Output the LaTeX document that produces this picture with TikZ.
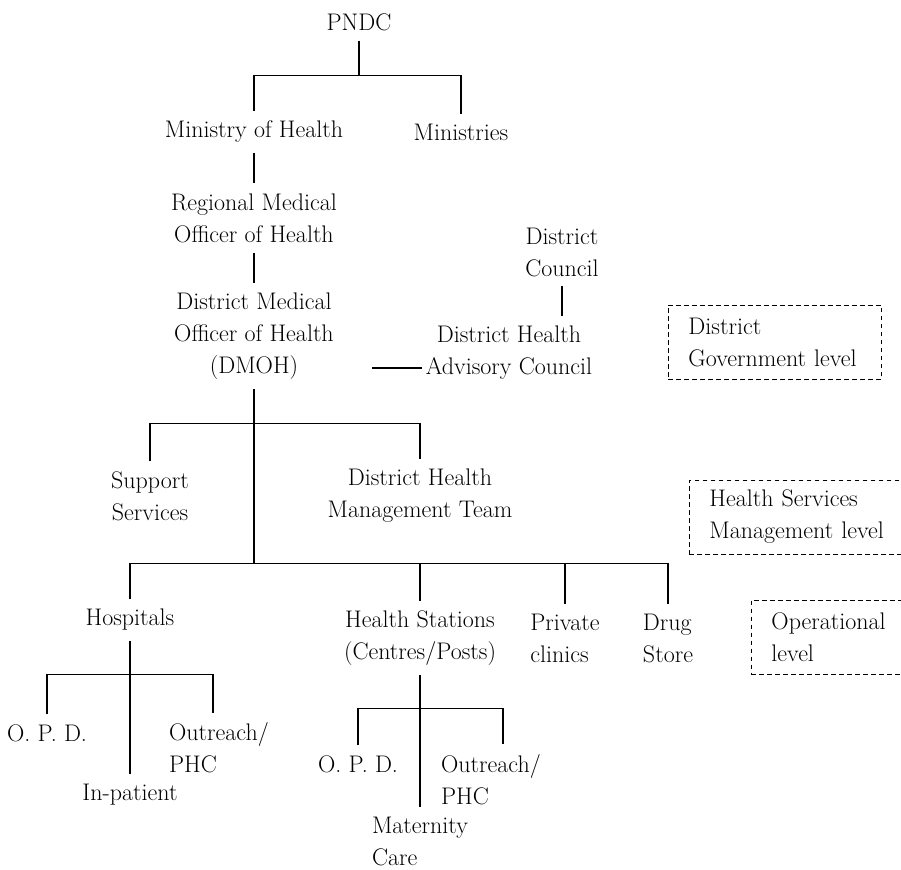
\documentclass[tikz,border=0pt]{standalone}
\usepackage{fontspec}
\usetikzlibrary{positioning}

\begin{document}
\begin{tikzpicture}[x=0.75pt,y=-0.75pt,on grid,thick,
    unit/.style={align=center,font=\fontsize{18}{24}\selectfont,
		inner sep=0pt,outer xsep=3pt,outer ysep=7.5pt},
    unitl/.style={unit,align=left},
% Level box style
    tierbox/.style={draw,dash pattern=on 3.5pt off 2.5pt,line width=0.7pt,
		align=left,anchor=west,font=\fontsize{18}{24}\selectfont,
		inner xsep=15pt,inner ysep=0pt,minimum height=55.5pt}
    ]
   \useasboundingbox (0,0) rectangle (901,870);
   \clip (0,0) rectangle (901,870);
%%% Government side
   \node [unit] (pndc) at (359,22) {PNDC};
   \node [unit,below left=82.5pt and 78.75pt of pndc] (moh) {Ministry of Health};
   \node [unit,right=155.25pt of moh] (mins) {Ministries};
   \node [unit,below=64.5pt of moh] (rmoh) {Regional Medical\\Officer of Health};
   \node [unit,below=88.5pt of rmoh] (dmoh) {District Medical\\Officer of Health\\(DMOH)};
   \node [unit,below right=12.75pt and 191.25pt of dmoh] (dhac) {District Health\\Advisory Council};
   \node [unit,above right=75.75pt and 39.75pt of dhac] (dcoun) {District\\Council};

%%% Management and operational units
   \node [unit,below left=120pt and 78pt of dmoh] (supp) {Support\\Services};
   \node [unit,right=202.5pt of supp] (dhmt) {District Health\\Management Team};
   \node [unit,below left=93pt and 15pt of supp] (hosp) {Hospitals};
   \node [unit,below=106.5pt of dhmt] (hstat) {Health Stations\\(Centres/Posts)};
   \node [unitl,right=108.75pt of hstat] (priv) {Private\\clinics};
   \node [unitl,right=77.25pt of priv] (drug) {Drug\\Store};

   \node [unit,below left=84.75pt and 62.25pt of hosp] (opda) {O. P. D.};
   \node [unitl,below right=96pt and 66.75pt of hosp] (outra) {Outreach/\\PHC};
   \node [unit,below=131.25pt of hosp] (inpat) {In-patient};
   \node [unit,below left=94.5pt and 46.5pt of hstat] (opdb) {O. P. D.};
   \node [unitl,below right=106pt and 53.25pt of hstat] (outrb) {Outreach/\\PHC};
   \node [unitl,below=152.5pt of hstat] (mat) {Maternity\\Care};

%%% Level boxes
   \node [tierbox,text width=130pt] (govlvl) at (668,342) {District\\Government level};
   \node [tierbox,text width=150pt] (mgtlvl) at (689,517) {Health Services\\Management level};
   \node [tierbox,text width=98pt] (oplvl) at (751,637) {Operational\\level};

%%% Junctions
   \coordinate [below=26pt of pndc.south] (bar1);
   \coordinate [below=25.5pt of dmoh.south] (bar2);
   \coordinate [below=130.5pt of dmoh.south] (bar3);
   \coordinate [below=25.5pt of hosp.south] (bar4);
   \coordinate [below=24.5pt of hstat.south] (bar5);

%%% Connectors
   \draw (pndc) -- (bar1);
   \draw (moh) |- (bar1) -| (mins);
   \draw (moh) -- (rmoh);
   \draw (rmoh) -- (dmoh);
   \draw (dcoun) -- (dcoun |- dhac.north);
   \draw ([xshift=26pt,yshift=-24pt]dmoh.east) -- ([yshift=-11.25pt]dhac.west);

   \draw (dmoh) -- (bar3);
   \draw (supp) |- (bar2) -| (dhmt);
   \draw (hosp) |- (bar3) -| (drug);
   \draw (hstat) -- (hstat |- bar3);
   \draw (priv) -- (priv |- bar3);

   \draw (hosp) -- (inpat);
   \draw (opda) |- (bar4) -| ([xshift=-4.5pt]outra.north);
   \draw (hstat) -- (mat);
   \draw (opdb) |- (bar5) -| ([xshift=9pt]outrb.north);
\end{tikzpicture}
\end{document}
